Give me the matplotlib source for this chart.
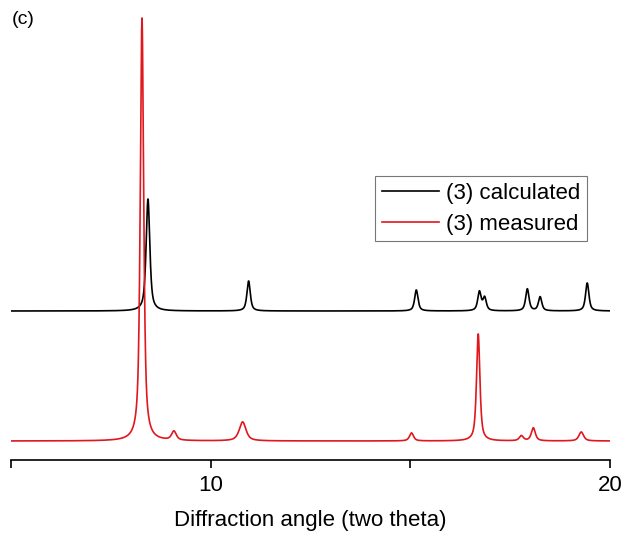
import numpy as np
import matplotlib
matplotlib.use("Agg")
import matplotlib.pyplot as plt

plt.rcParams['font.family'] = ['Liberation Sans', 'DejaVu Sans']

# Peak lists (position in 2theta, height, half-width)
calc_pos = [8.43, 10.95, 15.15, 16.73, 16.86, 17.93, 18.25, 19.43]
calc_height = [112, 30, 21, 19, 13, 22, 14, 28]
calc_width = [0.055, 0.05, 0.05, 0.05, 0.05, 0.05, 0.05, 0.05]
calc_offset = 130

meas_pos = [8.28, 9.08, 10.80, 15.03, 16.70, 17.78, 18.08, 19.28]
meas_height = [423, 9, 19, 8, 107, 5, 13, 9]
meas_width = [0.05, 0.07, 0.1, 0.06, 0.05, 0.06, 0.06, 0.07]

labels = ["(3) calculated", "(3) measured"]
xticks = [5, 10, 15, 20]
xticklabels = ["", "10", "", "20"]

x = np.linspace(5, 20, 6000)

def profile(pos, h, w):
    y = np.zeros_like(x)
    for p, hh, ww in zip(pos, h, w):
        y += hh * (0.7 / (1 + ((x - p) / ww) ** 2) + 0.3 * np.exp(-np.log(2) * ((x - p) / ww) ** 2))
    return y

y_calc = profile(calc_pos, calc_height, calc_width) + calc_offset
y_meas = profile(meas_pos, meas_height, meas_width)

fig = plt.figure(figsize=(6.28, 5.39), dpi=100)
ax = fig.add_axes([11/628, (539-460)/539, (610-11)/628, 450/539])
ax.plot(x, y_calc, color='black', lw=1.2, label=labels[0])
ax.plot(x, y_meas, color='#e0171c', lw=1.2, label=labels[1])
ax.set_xlim(5, 20)
ax.set_ylim(-19, 431)
for s in ['top', 'left', 'right']:
    ax.spines[s].set_visible(False)
ax.spines['bottom'].set_linewidth(1.2)
ax.set_yticks([])
ax.set_xticks(xticks)
ax.set_xticklabels(xticklabels)
ax.tick_params(axis='x', direction='out', length=6, width=1.2, labelsize=16, pad=5)
ax.set_xlabel("Diffraction angle (two theta)", fontsize=16, labelpad=10)

leg = ax.legend(loc='upper left', bbox_to_anchor=((375-11)/599, (460-176)/450),
                fontsize=16, frameon=True, fancybox=False, edgecolor='#555555',
                handlelength=2.6, handletextpad=0.3, borderpad=0.3, labelspacing=0.45,
                borderaxespad=0)
leg.get_frame().set_linewidth(0.8)

fig.text(12/628, 1 - 20/539, "(c)", fontsize=14, va='center', ha='left')

fig.savefig("out.png", dpi=100)
